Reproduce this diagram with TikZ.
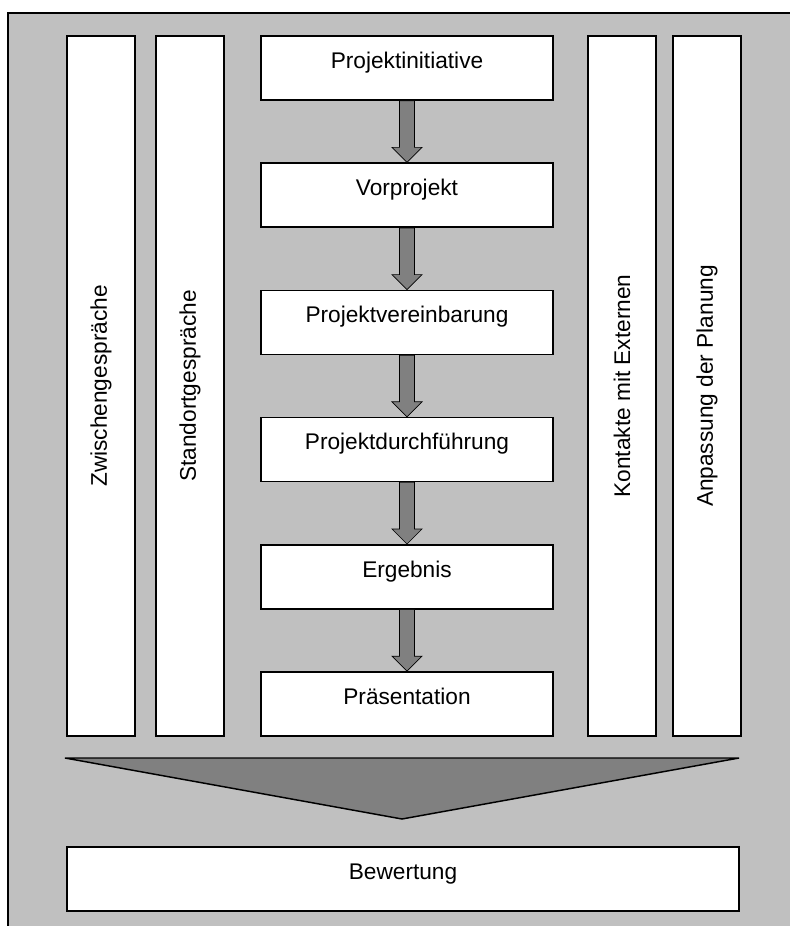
\documentclass[tikz,border=0pt]{standalone}
\usepackage{fontspec}
\setmainfont{Liberation Sans}
\usetikzlibrary{calc, arrows.meta, positioning}

\definecolor{panel}{HTML}{C0C0C0}
\definecolor{flowgray}{HTML}{808080}

\begin{document}
\begin{tikzpicture}[x=0.75pt, y=-0.75pt,
  phase/.style={draw, line width=1.2pt, fill=white, inner sep=0pt,
    minimum width=219pt, minimum height=48pt, text height=12pt, text depth=11.5pt,
    font=\fontsize{17}{20}\selectfont},
  side/.style={draw, line width=1.2pt, fill=white, inner sep=0pt, rotate=90,
    minimum width=525pt, minimum height=51pt, font=\fontsize{17}{20}\selectfont},
  flow/.style={draw, line width=0.5pt, fill=flowgray}]
  \useasboundingbox (0,0) rectangle (790,926);
  % grey panel, only left and top edge visible
  \fill[panel] (8,13) rectangle (790,926);
  \draw[line width=1.5pt] (8,926) -- (8,13) -- (790,13);
  % side columns
  \node[side] (zwischen) at (101,386) {Zwischengespräche};
  \node[side] (standort) at (190,386) {Standortgespräche};
  \node[side] (kontakte) at (622,386) {Kontakte mit Externen};
  \node[side] (anpassung) at (707,386) {Anpassung der Planung};
  % project phases
  \node[phase] (init) at (407,68) {Projektinitiative};
  \node[phase] (vor) at (407,195.2) {Vorprojekt};
  \node[phase] (vereinb) at (407,322.4) {Projektvereinbarung};
  \node[phase] (durchf) at (407,449.6) {Projektdurchführung};
  \node[phase] (ergebnis) at (407,576.8) {Ergebnis};
  \node[phase] (praes) at (407,704) {Präsentation};
  \foreach \a/\b in {init/vor, vor/vereinb, vereinb/durchf, durchf/ergebnis, ergebnis/praes}
    \draw[flow] ($(\a.south)+(-7.5,0)$) -- ($(\b.north)+(-7.5,-15)$)
      -- ($(\b.north)+(-15,-15)$) -- (\b.north) -- ($(\b.north)+(15,-15)$)
      -- ($(\b.north)+(7.5,-15)$) -- ($(\a.south)+(7.5,0)$) -- cycle;
  % funnel to the evaluation
  \draw[flow, line width=1.1pt] (65,758) -- (739,758) -- (402,819) -- cycle;
  \node[phase, minimum width=504pt] (bewertung) at (403,879) {Bewertung};
\end{tikzpicture}
\end{document}
